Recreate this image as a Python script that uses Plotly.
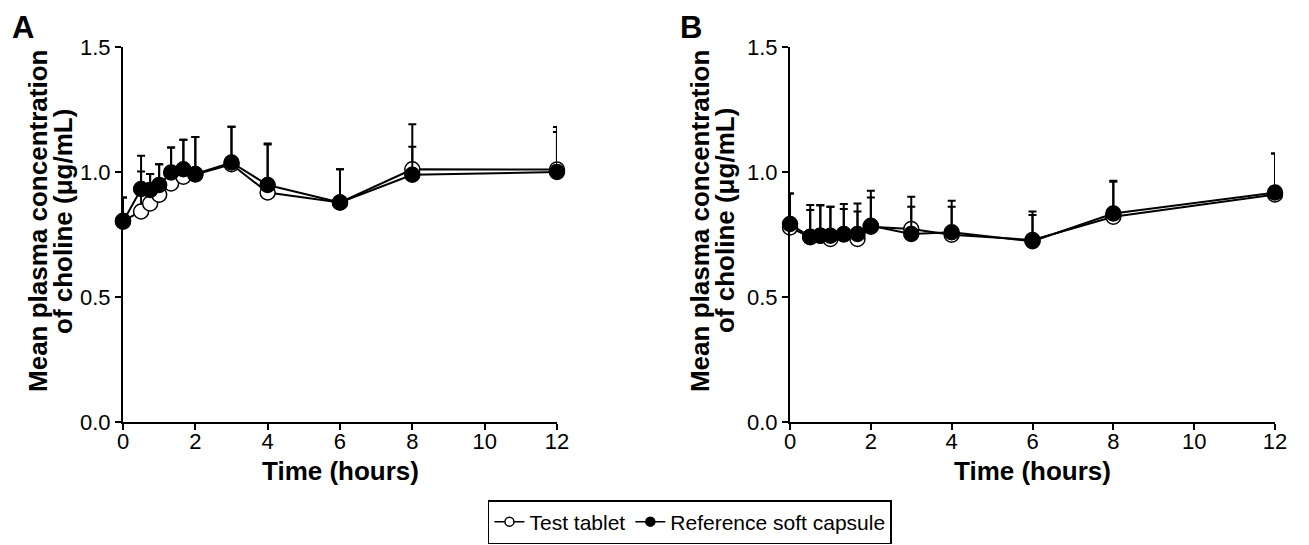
import plotly.graph_objects as go

# ---------------- data ----------------
time_h = [0, 0.5, 0.75, 1, 1.33, 1.67, 2, 3, 4, 6, 8, 12]

# Panel A
a_test_mean = [0.805, 0.842, 0.874, 0.909, 0.954, 0.981, 0.990, 1.031, 0.918, 0.878, 1.011, 1.010]
a_test_sd = [0.093, 0.160, 0.118, 0.122, 0.144, 0.148, 0.150, 0.150, 0.192, 0.133, 0.180, 0.170]
a_ref_mean = [0.801, 0.932, 0.928, 0.948, 0.998, 1.011, 0.992, 1.038, 0.948, 0.878, 0.989, 1.000]
a_ref_sd = [0.097, 0.133, 0.064, 0.083, 0.100, 0.118, 0.148, 0.143, 0.166, 0.133, 0.112, 0.160]

# Panel B
b_test_mean = [0.778, 0.739, 0.745, 0.732, 0.750, 0.732, 0.781, 0.772, 0.749, 0.728, 0.821, 0.910]
b_test_sd = [0.136, 0.129, 0.121, 0.129, 0.102, 0.142, 0.117, 0.129, 0.112, 0.114, 0.144, 0.164]
b_ref_mean = [0.792, 0.741, 0.745, 0.745, 0.752, 0.752, 0.785, 0.752, 0.759, 0.723, 0.834, 0.918]
b_ref_sd = [0.122, 0.107, 0.123, 0.116, 0.120, 0.090, 0.140, 0.109, 0.126, 0.105, 0.127, 0.156]

series_names = ["Test tablet", "Reference soft capsule"]
x_ticks = [0, 2, 4, 6, 8, 10, 12]
y_ticks = [0.0, 0.5, 1.0, 1.5]
y_tick_text = ["0.0", "0.5", "1.0", "1.5"]

FONT = "Liberation Sans, Arial, sans-serif"

fig = go.Figure()


def add_pair(test_m, test_s, ref_m, ref_s, xa, ya):
    zeros = [0] * len(time_h)
    fig.add_trace(go.Scatter(
        x=time_h, y=test_m, mode="lines+markers", xaxis=xa, yaxis=ya,
        line=dict(color="black", width=2),
        marker=dict(symbol="circle", size=15, color="white",
                    line=dict(color="black", width=1.5)),
        error_y=dict(type="data", symmetric=False, array=test_s, arrayminus=zeros,
                     color="black", thickness=2, width=4),
        cliponaxis=False, showlegend=False, name=series_names[0]))
    fig.add_trace(go.Scatter(
        x=time_h, y=ref_m, mode="lines+markers", xaxis=xa, yaxis=ya,
        line=dict(color="black", width=2),
        marker=dict(symbol="circle", size=15, color="black",
                    line=dict(color="black", width=1.5)),
        error_y=dict(type="data", symmetric=False, array=ref_s, arrayminus=zeros,
                     color="black", thickness=2, width=4),
        cliponaxis=False, showlegend=False, name=series_names[1]))


add_pair(a_test_mean, a_test_sd, a_ref_mean, a_ref_sd, "x", "y")
add_pair(b_test_mean, b_test_sd, b_ref_mean, b_ref_sd, "x2", "y2")

# legend-only entries (smaller symbols, as in the reference legend)
fig.add_trace(go.Scatter(x=[None], y=[None], mode="lines+markers", name=series_names[0],
                         line=dict(color="black", width=1.5),
                         marker=dict(size=9, color="white", line=dict(color="black", width=1.5))))
fig.add_trace(go.Scatter(x=[None], y=[None], mode="lines+markers", name=series_names[1],
                         line=dict(color="black", width=1.5),
                         marker=dict(size=9, color="black", line=dict(color="black", width=1.5))))

axis_common = dict(
    showline=True, linecolor="black", linewidth=2, showgrid=False, zeroline=False,
    ticks="outside", ticklen=6, tickwidth=2, tickcolor="black",
    tickfont=dict(family=FONT, size=22, color="black"),
)

fig.update_layout(
    width=1309, height=545,
    paper_bgcolor="white", plot_bgcolor="white",
    margin=dict(l=115, r=42, t=39, b=131, autoexpand=False),
    font=dict(family=FONT, color="black"),
    xaxis=dict(domain=[0, 0.3767], range=[0, 12], tickvals=x_ticks, anchor="y",
               ticklabelstandoff=-7, **axis_common),
    yaxis=dict(domain=[0, 1], range=[0, 1.5], tickvals=y_ticks, ticktext=y_tick_text,
               anchor="x", **axis_common),
    xaxis2=dict(domain=[0.5790, 1.0], range=[0, 12], tickvals=x_ticks, anchor="y2",
                ticklabelstandoff=-7, **axis_common),
    yaxis2=dict(domain=[0, 1], range=[0, 1.5], tickvals=y_ticks, ticktext=y_tick_text,
                anchor="x2", **axis_common),
    showlegend=True,
    legend=dict(orientation="h", x=0.3168, xanchor="left", y=-0.208, yanchor="top",
                bordercolor="black", borderwidth=1.5, bgcolor="white",
                font=dict(family=FONT, size=21, color="black"),
                itemwidth=30, tracegroupgap=0),
)

ann_bold = dict(family=FONT, size=26, color="black")
annotations = [
    # panel letters
    dict(text="<b>A</b>", x=-0.0981, y=1.105, xanchor="left", yanchor="top",
         font=dict(family=FONT, size=31, color="black")),
    dict(text="<b>B</b>", x=0.4818, y=1.105, xanchor="left", yanchor="top",
         font=dict(family=FONT, size=31, color="black")),
    # y titles
    dict(text="<b>Mean plasma concentration</b>", x=-0.0738, y=0.536, textangle=-90,
         xanchor="center", yanchor="middle", font=ann_bold),
    dict(text="<b>of choline (μg/mL)</b>", x=-0.0521, y=0.536, textangle=-90,
         xanchor="center", yanchor="middle", font=ann_bold),
    dict(text="<b>Mean plasma concentration</b>", x=0.5009, y=0.536, textangle=-90,
         xanchor="center", yanchor="middle", font=ann_bold),
    dict(text="<b>of choline (μg/mL)</b>", x=0.5226, y=0.536, textangle=-90,
         xanchor="center", yanchor="middle", font=ann_bold),
    # x titles
    dict(text="<b>Time (hours)</b>", x=0.1884, y=-0.084, xanchor="center", yanchor="top",
         font=ann_bold),
    dict(text="<b>Time (hours)</b>", x=0.7895, y=-0.084, xanchor="center", yanchor="top",
         font=ann_bold),
]
for a in annotations:
    a.update(xref="paper", yref="paper", showarrow=False)
fig.update_layout(annotations=annotations)

fig.write_html("out.html")
